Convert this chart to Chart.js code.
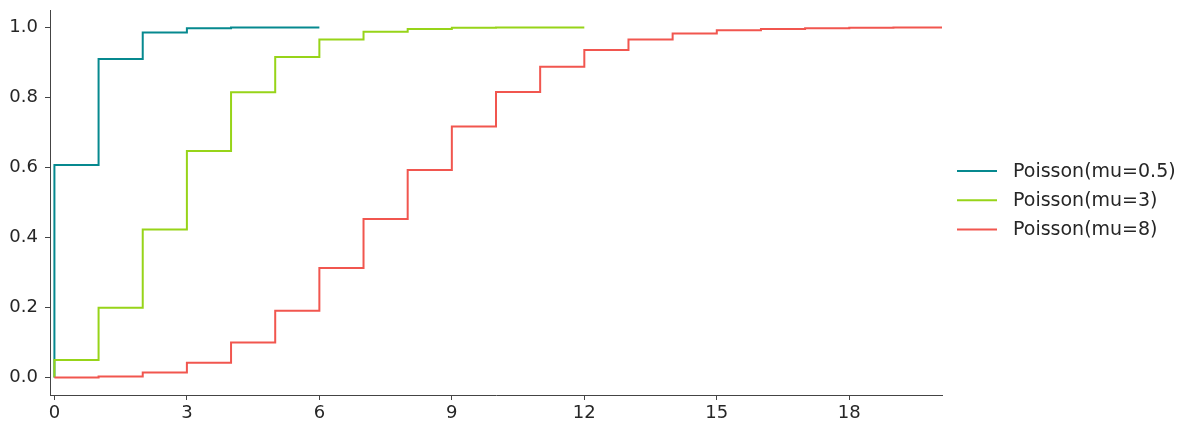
<!DOCTYPE html>
<html><head><meta charset="utf-8">
<script src="https://cdn.jsdelivr.net/npm/chart.js@4/dist/chart.umd.min.js"></script>
<style>html,body{margin:0;padding:0;background:#fff}#wrap{width:1193px;height:434px}</style>
</head><body><div id="wrap"><canvas id="c" width="1193" height="434"></canvas></div>
<script>
// ---- data ----
const seriesNames = ['Poisson(mu=0.5)', 'Poisson(mu=3)', 'Poisson(mu=8)'];
const seriesColors = ['#06898f', '#97d419', '#f1564f'];
const cdfMu05 = [0.607, 0.910, 0.986, 0.998, 1.000, 1.000, 1.000];
const cdfMu3 = [0.050, 0.199, 0.423, 0.647, 0.815, 0.916, 0.966, 0.988, 0.996, 0.999, 1.000, 1.000, 1.000];
const cdfMu8 = [0.000, 0.003, 0.014, 0.042, 0.100, 0.191, 0.313, 0.453, 0.593, 0.717, 0.816, 0.888, 0.936, 0.966, 0.983, 0.992, 0.996, 0.998, 0.999, 1.000, 1.000, 1.000];
const xTicks = [0, 3, 6, 9, 12, 15, 18];
const yTicks = [0.0, 0.2, 0.4, 0.6, 0.8, 1.0];

function stepPoints(cdf) {
  const pts = [{x: 0, y: 0}];
  cdf.forEach((v, k) => pts.push({x: k, y: v}));
  return pts;
}
const allSeries = [cdfMu05, cdfMu3, cdfMu8];

const FONT = 'DejaVu Sans';
const legendPlugin = {
  id: 'sideLegend',
  afterDraw(chart) {
    const ctx = chart.ctx;
    ctx.save();
    const x0 = 957, x1 = 997, tx = 1013, y0 = 171, dy = 29.2;
    ctx.font = '19px "' + FONT + '"';
    ctx.textBaseline = 'middle';
    ctx.textAlign = 'left';
    seriesNames.forEach((n, i) => {
      const y = y0 + i * dy;
      ctx.strokeStyle = seriesColors[i];
      ctx.lineWidth = 2;
      ctx.beginPath(); ctx.moveTo(x0, y); ctx.lineTo(x1, y); ctx.stroke();
      ctx.fillStyle = '#262626';
      ctx.fillText(n, tx, y + 1);
    });
    ctx.restore();
  }
};

const axisCommon = {
  grid: {drawOnChartArea: false, drawTicks: true, tickLength: 5, color: '#444'},
  border: {display: true, color: '#444', width: 1},
};

new Chart(document.getElementById('c'), {
  type: 'line',
  data: {
    datasets: allSeries.map((cdf, i) => ({
      label: seriesNames[i],
      data: stepPoints(cdf),
      borderColor: seriesColors[i],
      backgroundColor: seriesColors[i],
      borderWidth: 2,
      pointRadius: 0,
      stepped: 'before',
      fill: false,
      order: 3 - i
    }))
  },
  options: {
    responsive: false,
    animation: false,
    layout: {padding: {left: 0, right: 251, top: 10, bottom: 0}},
    plugins: {legend: {display: false}, tooltip: {enabled: false}},
    scales: {
      x: Object.assign({}, axisCommon, {
        type: 'linear', min: -0.1, max: 20.1,
        afterBuildTicks: s => { s.ticks = xTicks.map(v => ({value: v})); },
        afterFit: s => { s.height = 39; s.paddingLeft = 0; s.paddingRight = 0; },
        ticks: {font: {family: FONT, size: 18}, color: '#262626', padding: 3, maxRotation: 0, autoSkip: false,
          callback: v => String(v)}
      }),
      y: Object.assign({}, axisCommon, {
        type: 'linear', min: -0.05, max: 1.05,
        afterBuildTicks: s => { s.ticks = yTicks.map(v => ({value: v})); },
        afterFit: s => { s.width = 50; s.paddingTop = 0; s.paddingBottom = 0; },
        ticks: {font: {family: FONT, size: 18}, color: '#262626', padding: 7, autoSkip: false,
          callback: v => Number(v).toFixed(1)}
      })
    }
  },
  plugins: [legendPlugin]
});
</script>
</body></html>
